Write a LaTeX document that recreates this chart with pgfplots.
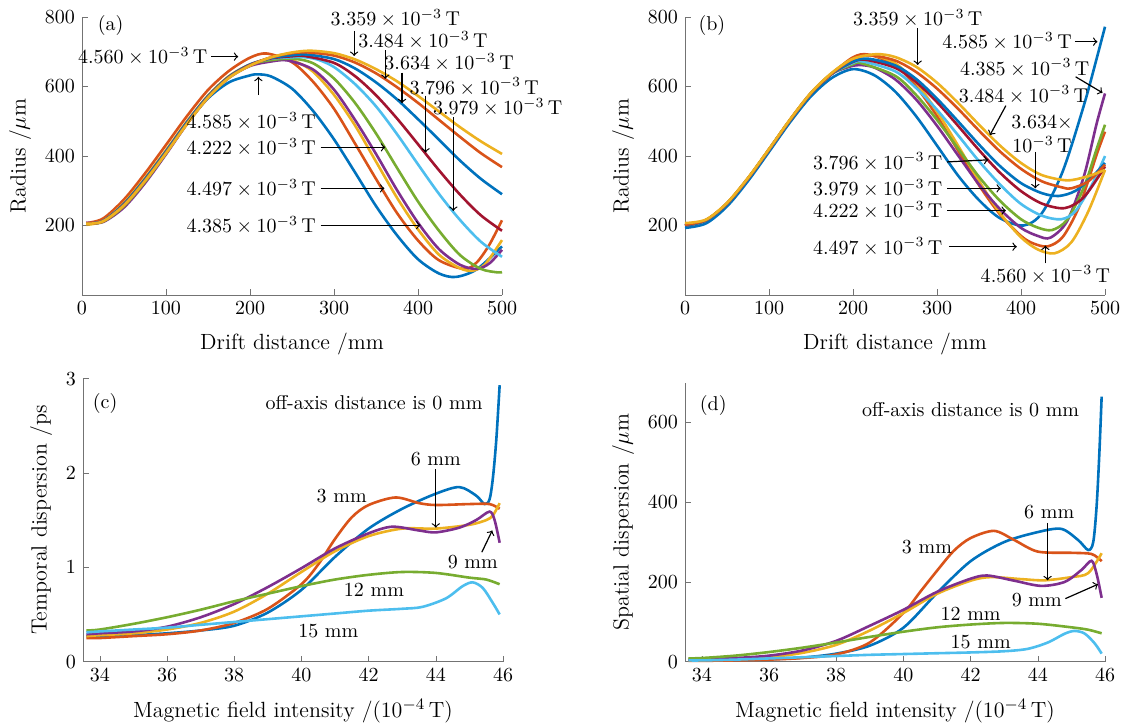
\documentclass[border=0pt]{standalone}
\usepackage{pgfplots}
\pgfplotsset{compat=1.18}
\definecolor{mblue}{rgb}{0,0.447,0.741}
\definecolor{mred}{rgb}{0.85,0.325,0.098}
\definecolor{myellow}{rgb}{0.929,0.694,0.125}
\definecolor{mpurple}{rgb}{0.494,0.184,0.556}
\definecolor{mgreen}{rgb}{0.466,0.674,0.188}
\definecolor{mcyan}{rgb}{0.301,0.745,0.933}
\definecolor{mdred}{rgb}{0.635,0.078,0.184}
\newcommand{\tv}[1]{$#1\times10^{-3}$\,T}
\tikzset{ann/.style={->, line width=0.6pt}, lab/.style={inner sep=0.5pt}}
\pgfplotsset{
  panel/.style={scale only axis, width=210pt, height=139pt,
    axis x line*=bottom, axis y line*=left, tick align=inside,
    axis line style={black!55}, major tick style={black!55},
    major tick length=3pt, clip=false,
    every axis plot/.append style={line width=1.3pt, smooth, no marks},
    label style={font=\fontsize{11}{13}\selectfont},
    xlabel style={yshift=-2pt}},
}
\begin{document}
\begin{tikzpicture}
\useasboundingbox (0,0) rectangle (561.5pt,-361pt);

% (a)
\begin{axis}[panel, at={(41pt,-147.5pt)}, anchor=south west,
  xmin=0, xmax=500, ymin=0, ymax=800,
  xtick={0,100,...,500}, ytick={200,400,600,800},
  xlabel={Drift distance /mm}, ylabel={Radius /$\mu$m}]
\addplot[mblue] coordinates {(5,205)(25,213)(50,262)(75,333)(100,413)(125,495)(150,566)(175,612)(200,632)(210,635)(225,629)(250,594)(275,530)(300,448)(325,353)(350,256)(375,172)(400,103)(425,62)(445,52)(470,74)(500,140)};
\addplot[mred] coordinates {(5,207)(25,220)(50,275)(75,350)(100,432)(125,515)(150,590)(175,645)(200,683)(220,695)(250,670)(275,614)(300,536)(325,436)(350,334)(375,236)(400,157)(425,100)(455,75)(470,94)(485,145)(500,215)};
\addplot[myellow] coordinates {(5,202)(25,213)(50,265)(75,337)(100,417)(125,500)(150,574)(175,630)(200,663)(225,675)(240,678)(255,671)(275,643)(300,576)(325,488)(350,384)(375,280)(400,189)(425,116)(450,77)(465,70)(480,89)(500,158)};
\addplot[mpurple] coordinates {(5,208)(25,210)(50,252)(75,322)(100,405)(125,492)(150,568)(175,625)(200,659)(225,672)(245,675)(275,649)(300,591)(325,504)(350,406)(375,302)(400,208)(425,132)(450,87)(470,75)(485,91)(500,130)};
\addplot[mgreen] coordinates {(5,205)(25,211)(50,256)(75,326)(100,408)(125,494)(150,570)(175,627)(200,663)(225,676)(252,680)(275,667)(300,623)(325,553)(350,465)(375,366)(400,269)(425,185)(450,115)(475,75)(495,65)(500,66)};
\addplot[mcyan] coordinates {(5,205)(25,213)(50,262)(75,333)(100,413)(125,497)(150,572)(175,628)(200,664)(225,680)(250,684)(262,685)(280,678)(300,656)(325,607)(350,543)(375,463)(400,376)(425,291)(450,216)(475,153)(500,110)};
\addplot[mdred] coordinates {(5,205)(25,213)(50,262)(75,333)(100,413)(125,497)(150,572)(175,628)(200,663)(225,681)(250,687)(265,688)(300,668)(325,630)(350,575)(375,508)(400,434)(425,359)(450,289)(475,229)(500,185)};
\addplot[mblue] coordinates {(5,205)(25,213)(50,262)(75,333)(100,413)(125,497)(150,572)(175,628)(200,662)(225,682)(250,690)(268,692)(300,679)(325,652)(350,612)(375,563)(400,506)(425,447)(450,387)(475,334)(500,290)};
\addplot[mred] coordinates {(5,205)(25,212)(50,259)(75,329)(100,409)(125,493)(150,569)(175,626)(200,661)(225,684)(250,696)(270,698)(300,689)(325,669)(350,638)(375,598)(400,553)(425,504)(450,455)(475,408)(500,368)};
\addplot[myellow] coordinates {(5,205)(25,212)(50,258)(75,328)(100,408)(125,492)(150,568)(175,625)(200,660)(225,684)(250,698)(272,703)(300,696)(325,678)(350,650)(375,615)(400,573)(425,528)(450,483)(475,442)(500,406)};
\node[lab] at (axis cs:34,777) {(a)};
\node[lab] at (axis cs:373,796) {\tv{3.359}};
\draw[ann] (axis cs:324,760) -- (axis cs:324,688);
\node[lab] at (axis cs:406,733) {\tv{3.484}};
\draw[ann] (axis cs:361,705) -- (axis cs:361,622);
\node[lab] at (axis cs:437,669) {\tv{3.634}};
\draw[ann] (axis cs:381,640) -- (axis cs:381,552);
\node[lab] at (axis cs:467,599) {\tv{3.796}};
\draw[ann] (axis cs:409,574) -- (axis cs:409,410);
\node[lab] at (axis cs:495,540) {\tv{3.979}};
\draw[ann] (axis cs:442,512) -- (axis cs:442,242);
\node[lab, anchor=east] at (axis cs:151,686) {\tv{4.560}};
\draw[ann] (axis cs:154,686) -- (axis cs:186,686);
\node[lab, anchor=east] at (axis cs:280,499) {\tv{4.585}};
\draw[ann] (axis cs:210,575) -- (axis cs:210,628);
\node[lab, anchor=east] at (axis cs:280,425) {\tv{4.222}};
\draw[ann] (axis cs:284,425) -- (axis cs:361,425);
\node[lab, anchor=east] at (axis cs:280,307) {\tv{4.497}};
\draw[ann] (axis cs:284,307) -- (axis cs:360,307);
\node[lab, anchor=east] at (axis cs:280,201) {\tv{4.385}};
\draw[ann] (axis cs:284,201) -- (axis cs:403,201);
\end{axis}

% (b)
\begin{axis}[panel, at={(342.5pt,-147.5pt)}, anchor=south west,
  xmin=0, xmax=500, ymin=0, ymax=800,
  xtick={0,100,...,500}, ytick={200,400,600,800},
  xlabel={Drift distance /mm}, ylabel={Radius /$\mu$m}]
\addplot[mblue] coordinates {(0,193)(25,206)(50,255)(75,328)(100,412)(125,497)(150,572)(175,625)(200,650)(225,633)(250,586)(275,515)(300,430)(325,344)(350,273)(375,221)(403,200)(425,236)(450,358)(475,547)(490,680)(500,772)};
\addplot[mred] coordinates {(0,200)(25,215)(50,263)(75,335)(100,418)(125,503)(150,580)(175,637)(200,684)(218,692)(250,662)(275,600)(300,515)(325,416)(350,316)(375,232)(400,170)(415,148)(432,140)(450,168)(470,259)(490,404)(500,470)};
\addplot[myellow] coordinates {(0,203)(25,216)(50,265)(75,337)(100,420)(125,505)(150,582)(175,638)(200,678)(222,690)(250,667)(275,611)(300,528)(325,430)(350,328)(375,236)(400,166)(420,131)(440,120)(460,152)(480,240)(500,360)};
\addplot[mpurple] coordinates {(0,200)(25,215)(50,263)(75,335)(100,418)(125,503)(150,580)(175,637)(200,660)(208,662)(225,655)(250,621)(275,563)(300,487)(325,402)(350,318)(375,247)(400,193)(420,170)(435,165)(455,213)(475,343)(490,493)(500,580)};
\addplot[mgreen] coordinates {(0,200)(25,215)(50,263)(75,335)(100,418)(125,503)(150,580)(175,637)(200,664)(210,667)(250,631)(275,576)(300,504)(325,422)(350,340)(375,271)(400,218)(420,194)(437,187)(455,217)(475,311)(490,420)(500,490)};
\addplot[mcyan] coordinates {(0,200)(25,215)(50,263)(75,335)(100,418)(125,503)(150,580)(175,637)(200,668)(212,672)(250,644)(275,596)(300,533)(325,460)(350,385)(375,318)(400,262)(425,228)(448,218)(465,242)(485,320)(500,400)};
\addplot[mdred] coordinates {(0,200)(25,215)(50,263)(75,335)(100,418)(125,503)(150,580)(175,637)(200,671)(215,677)(250,654)(275,613)(300,555)(325,487)(350,417)(375,352)(400,299)(425,263)(452,250)(475,282)(500,370)};
\addplot[mblue] coordinates {(0,200)(25,215)(50,263)(75,335)(100,418)(125,503)(150,580)(175,637)(200,672)(218,680)(250,661)(275,622)(300,565)(325,500)(350,433)(375,371)(400,322)(425,293)(445,285)(465,300)(485,341)(500,380)};
\addplot[mred] coordinates {(0,202)(25,216)(50,264)(75,336)(100,419)(125,504)(150,581)(175,638)(200,680)(220,690)(250,675)(275,642)(300,594)(325,536)(350,473)(375,413)(400,363)(425,327)(450,309)(460,307)(480,327)(500,375)};
\addplot[myellow] coordinates {(0,207)(25,217)(50,265)(75,337)(100,420)(125,505)(150,582)(175,640)(200,680)(228,693)(250,685)(275,657)(300,611)(325,553)(350,490)(375,430)(400,380)(425,345)(455,330)(480,342)(500,360)};
\node[lab] at (axis cs:32,777) {(b)};
\node[lab] at (axis cs:277,796) {\tv{3.359}};
\draw[ann] (axis cs:277,767) -- (axis cs:277,662);
\node[lab, anchor=east] at (axis cs:462,729) {\tv{4.585}};
\draw[ann] (axis cs:464,729) -- (axis cs:491,729);
\node[lab, anchor=east] at (axis cs:483,654) {\tv{4.385}};
\draw[ann] (axis cs:465,628) -- (axis cs:497,582);
\node[lab] at (axis cs:403,576) {\tv{3.484}};
\draw[ann] (axis cs:382,545) -- (axis cs:363,460);
\node[lab, align=center] at (axis cs:425,463) {$3.634\times$\\$10^{-3}$\,T};
\draw[ann] (axis cs:417,412) -- (axis cs:417,307);
\node[lab, anchor=east] at (axis cs:308,383) {\tv{3.796}};
\draw[ann] (axis cs:312,383) -- (axis cs:361,389);
\node[lab, anchor=east] at (axis cs:308,307) {\tv{3.979}};
\draw[ann] (axis cs:312,307) -- (axis cs:376,307);
\node[lab, anchor=east] at (axis cs:308,243) {\tv{4.222}};
\draw[ann] (axis cs:312,243) -- (axis cs:382,243);
\node[lab, anchor=east] at (axis cs:308,139) {\tv{4.497}};
\draw[ann] (axis cs:314,139) -- (axis cs:395,139);
\node[lab] at (axis cs:429,58) {\tv{4.560}};
\draw[ann] (axis cs:429,91) -- (axis cs:429,142);
\end{axis}

% (c)
\begin{axis}[panel, at={(41.5pt,-330.8pt)}, anchor=south west, height=141.5pt,
  xmin=33.5, xmax=46, ymin=0, ymax=3,
  xtick={34,36,...,46}, ytick={0,1,2,3},
  xlabel={Magnetic field intensity /(10$^{-4}$\,T)}, ylabel={Temporal dispersion /ps}]
\addplot[mblue] coordinates {(33.6,0.27)(34,0.27)(35,0.28)(36,0.30)(37,0.33)(38,0.38)(39,0.52)(40,0.76)(41,1.11)(42,1.41)(43,1.62)(44,1.78)(44.7,1.85)(45.2,1.76)(45.45,1.67)(45.6,1.72)(45.7,1.95)(45.8,2.35)(45.9,2.93)};
\addplot[mred] coordinates {(33.6,0.25)(34,0.25)(35,0.27)(36,0.29)(37,0.33)(38,0.41)(39,0.56)(40,0.82)(40.5,1.03)(41,1.3)(41.5,1.53)(42,1.66)(42.8,1.74)(43.5,1.68)(44,1.66)(45,1.67)(45.6,1.67)(45.9,1.62)};
\addplot[myellow] coordinates {(33.6,0.27)(34,0.28)(35,0.30)(36,0.34)(37,0.41)(38,0.53)(39,0.72)(40,0.95)(41,1.17)(42,1.33)(43,1.41)(44,1.41)(45,1.45)(45.5,1.5)(45.7,1.55)(45.9,1.68)};
\addplot[mpurple] coordinates {(33.6,0.29)(34,0.30)(35,0.32)(36,0.37)(37,0.47)(38,0.61)(39,0.79)(40,0.99)(41,1.2)(42,1.36)(42.7,1.43)(43.5,1.39)(44,1.37)(44.7,1.42)(45.2,1.5)(45.6,1.59)(45.75,1.5)(45.9,1.26)};
\addplot[mgreen] coordinates {(33.6,0.33)(34,0.34)(35,0.40)(36,0.47)(37,0.55)(38,0.64)(39,0.72)(40,0.80)(41,0.87)(42,0.92)(43,0.95)(44,0.94)(45,0.89)(45.5,0.87)(45.9,0.82)};
\addplot[mcyan] coordinates {(33.6,0.31)(34,0.32)(35,0.34)(36,0.36)(37,0.39)(38,0.42)(39,0.45)(40,0.48)(41,0.51)(42,0.54)(43,0.56)(43.6,0.58)(44.3,0.67)(44.8,0.8)(45.1,0.84)(45.4,0.78)(45.7,0.62)(45.9,0.5)};
\node[lab] at (axis cs:34.16,2.74) {(c)};
\node[lab] at (axis cs:42.16,2.75) {off-axis distance is 0 mm};
\node[lab] at (axis cs:44.0,2.15) {6 mm};
\draw[ann] (axis cs:44.0,2.04) -- (axis cs:44.0,1.42);
\node[lab] at (axis cs:41.2,1.75) {3 mm};
\node[lab] at (axis cs:45.1,1.06) {9 mm};
\draw[ann] (axis cs:45.37,1.16) -- (axis cs:45.68,1.39);
\node[lab] at (axis cs:42.16,0.76) {12 mm};
\node[lab] at (axis cs:40.8,0.32) {15 mm};
\end{axis}

% (d)
\begin{axis}[panel, at={(342.5pt,-330.8pt)}, anchor=south west, height=139.5pt,
  xmin=33.5, xmax=46, ymin=0, ymax=700,
  xtick={34,36,...,46}, ytick={0,200,400,600},
  xlabel={Magnetic field intensity /(10$^{-4}$\,T)}, ylabel={Spatial dispersion /$\mu$m}]
\addplot[mblue] coordinates {(33.6,3)(34,3)(35,4)(36,6)(37,10)(38,20)(39,40)(40,85)(41,172)(42,252)(43,300)(44,325)(44.7,333)(45.2,305)(45.5,280)(45.65,300)(45.75,390)(45.83,520)(45.9,665)};
\addplot[mred] coordinates {(33.6,2)(34,2)(35,3)(36,5)(37,9)(38,18)(39,48)(40,122)(40.5,175)(41,228)(41.5,278)(42,310)(42.7,328)(43.3,305)(44,276)(45,273)(45.6,270)(45.9,252)};
\addplot[myellow] coordinates {(33.6,4)(34,4)(35,6)(36,11)(37,22)(38,42)(39,78)(40,122)(41,170)(42,203)(42.6,212)(43.5,207)(44.2,204)(45,212)(45.5,222)(45.9,272)};
\addplot[mpurple] coordinates {(33.6,5)(34,6)(35,9)(36,15)(37,28)(38,52)(39,90)(40,130)(41,175)(42,208)(42.5,216)(43.3,203)(44.1,190)(44.8,200)(45.3,230)(45.6,253)(45.75,220)(45.9,160)};
\addplot[mgreen] coordinates {(33.6,8)(34,9)(35,15)(36,24)(37,35)(38,48)(39,62)(40,75)(41,86)(42,93)(43,97)(44,95)(45,86)(45.5,80)(45.9,71)};
\addplot[mcyan] coordinates {(33.6,3)(34,3)(35,5)(36,8)(37,11)(38,14)(39,17)(40,19)(41,21)(42,23)(43,26)(43.7,32)(44.3,48)(44.8,70)(45.1,77)(45.4,70)(45.7,45)(45.9,20)};
\node[lab] at (axis cs:34.34,642) {(d)};
\node[lab] at (axis cs:42.0,633) {off-axis distance is 0 mm};
\node[lab] at (axis cs:44.34,375) {6 mm};
\draw[ann] (axis cs:44.29,348) -- (axis cs:44.29,204);
\node[lab] at (axis cs:40.7,288) {3 mm};
\node[lab] at (axis cs:43.97,154) {9 mm};
\draw[ann] (axis cs:44.82,158) -- (axis cs:45.79,194);
\node[lab] at (axis cs:42.0,121) {12 mm};
\node[lab] at (axis cs:42.3,50) {15 mm};
\end{axis}
\end{tikzpicture}
\end{document}
